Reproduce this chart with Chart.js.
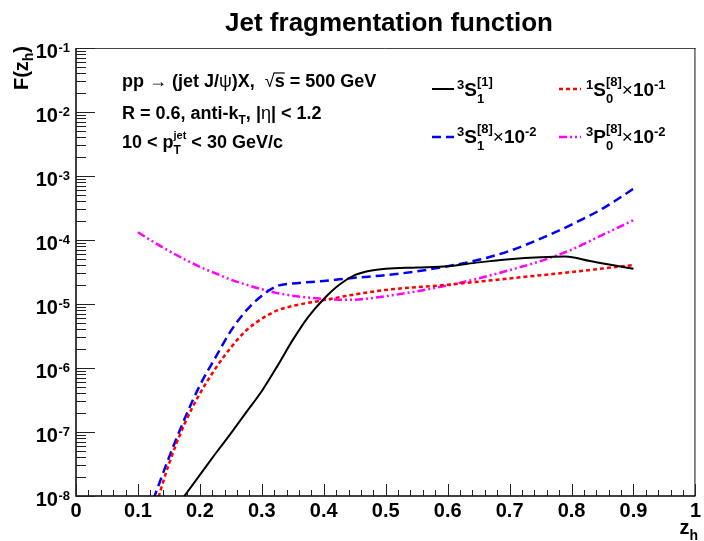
<!DOCTYPE html>
<html><head><meta charset="utf-8">
<script src="https://cdn.jsdelivr.net/npm/chart.js@4/dist/chart.umd.min.js"></script>
<style>html,body{margin:0;padding:0;background:#fff;}canvas{display:block;}</style>
</head><body>
<canvas id="c" width="704" height="541"></canvas>
<script>
// ---------- data ----------
const chartTitle = 'Jet fragmentation function';
const xTickLabels = ['0','0.1','0.2','0.3','0.4','0.5','0.6','0.7','0.8','0.9','1'];
const yTickExponents = [-8,-7,-6,-5,-4,-3,-2,-1];

// 3S1[1] (colour singlet)
const xS1 = [0.168,0.175,0.20,0.225,0.25,0.275,0.30,0.325,0.35,0.375,0.40,0.425,0.45,0.475,0.50,0.55,0.60,0.65,0.70,0.75,0.79,0.83,0.87,0.90];
const yS1 = [8.13e-9,1.0e-8,2.14e-8,4.57e-8,9.55e-8,2.04e-7,4.37e-7,1.07e-6,2.75e-6,6.31e-6,1.20e-5,2.00e-5,2.82e-5,3.31e-5,3.55e-5,3.72e-5,3.89e-5,4.47e-5,5.01e-5,5.37e-5,5.50e-5,4.68e-5,3.98e-5,3.55e-5];

// 3S1[8] x 1e-2
const xS8 = [0.125,0.15,0.175,0.20,0.225,0.25,0.275,0.30,0.325,0.35,0.40,0.45,0.50,0.55,0.60,0.65,0.70,0.75,0.80,0.85,0.90];
const yS8 = [8.91e-9,3.98e-8,1.58e-7,5.37e-7,1.45e-6,3.80e-6,7.94e-6,1.35e-5,1.91e-5,2.09e-5,2.29e-5,2.57e-5,2.82e-5,3.24e-5,3.89e-5,4.90e-5,6.76e-5,1.05e-4,1.74e-4,3.09e-4,6.31e-4];

// 1S0[8] x 1e-1
const x1S0 = [0.13,0.15,0.175,0.20,0.225,0.25,0.275,0.30,0.325,0.35,0.40,0.45,0.50,0.60,0.70,0.80,0.90];
const y1S0 = [7.59e-9,3.16e-8,1.32e-7,3.98e-7,9.77e-7,2.09e-6,3.89e-6,5.89e-6,7.94e-6,9.33e-6,1.15e-5,1.41e-5,1.66e-5,2.00e-5,2.51e-5,3.16e-5,4.07e-5];

// 3P0[8] x 1e-2
const x3P0 = [0.10,0.125,0.15,0.175,0.20,0.225,0.25,0.275,0.30,0.325,0.35,0.375,0.40,0.425,0.45,0.475,0.50,0.55,0.60,0.65,0.70,0.75,0.80,0.85,0.90];
const y3P0 = [1.32e-4,9.33e-5,6.76e-5,5.01e-5,3.80e-5,3.02e-5,2.40e-5,2.00e-5,1.70e-5,1.48e-5,1.35e-5,1.26e-5,1.20e-5,1.17e-5,1.17e-5,1.23e-5,1.32e-5,1.58e-5,1.95e-5,2.51e-5,3.39e-5,4.68e-5,7.08e-5,1.20e-4,2.04e-4];

// ---------- helpers ----------
const FF = "'Liberation Sans', Arial, Helvetica, sans-serif";
const pts = (xs, ys) => xs.map((x, i) => ({x, y: ys[i]}));

// groups: each group is a segment or array of stacked segments {t,s,dy,w,over}
function rich(ctx, x, y, groups, draw = true) {
  let cx = x;
  for (const g of groups) {
    const segs = Array.isArray(g) ? g : [g];
    let adv = 0;
    for (const sg of segs) {
      ctx.font = `${sg.w || 'bold'} ${sg.s}px ${FF}`;
      const w = ctx.measureText(sg.t).width;
      if (draw) {
        ctx.fillText(sg.t, cx, y + (sg.dy || 0));
        if (sg.over) {
          ctx.save(); ctx.lineWidth = 1.2; ctx.strokeStyle = '#000';
          ctx.beginPath(); ctx.moveTo(cx - 1, y + (sg.dy||0) - sg.s * 0.78); ctx.lineTo(cx + w, y + (sg.dy||0) - sg.s * 0.78); ctx.stroke();
          ctx.restore();
        }
      }
      adv = Math.max(adv, w);
    }
    cx += adv;
  }
  return cx - x;
}

const dashes = {
  s1: [],
  s8: [9, 5],
  s0: [4, 3],
  p0: [8, 3, 2, 3, 2, 3]
};

const decor = {
  id: 'decor',
  afterDraw(chart) {
    const ctx = chart.ctx;
    const xs = chart.scales.x, ys = chart.scales.y;
    const a = chart.chartArea;
    ctx.save();
    ctx.fillStyle = '#000';
    ctx.textAlign = 'left';
    ctx.textBaseline = 'alphabetic';

    // frame
    ctx.lineWidth = 1;
    ctx.strokeStyle = '#444';
    ctx.beginPath();
    ctx.moveTo(a.left, a.top + 0.5); ctx.lineTo(a.right, a.top + 0.5);
    ctx.stroke();
    ctx.strokeStyle = '#111';
    ctx.beginPath();
    ctx.moveTo(a.right - 0.5, a.top); ctx.lineTo(a.right - 0.5, a.bottom);
    ctx.stroke();
    ctx.strokeStyle = '#000';
    ctx.lineWidth = 1.5;
    ctx.beginPath();
    ctx.moveTo(a.left, a.top); ctx.lineTo(a.left, a.bottom); ctx.lineTo(a.right, a.bottom);
    ctx.stroke();

    // x ticks (inside)
    ctx.lineWidth = 1;
    ctx.strokeStyle = '#222';
    for (let i = 0; i <= 50; i++) {
      const px = Math.round(xs.getPixelForValue(i / 50)) + 0.5;
      const len = (i % 5 === 0) ? 12 : 6;
      ctx.beginPath(); ctx.moveTo(px, a.bottom); ctx.lineTo(px, a.bottom - len); ctx.stroke();
    }
    // y ticks (inside)
    for (const e of yTickExponents) {
      const py = Math.round(ys.getPixelForValue(Math.pow(10, e))) + 0.5;
      ctx.beginPath(); ctx.moveTo(a.left, py); ctx.lineTo(a.left + 19, py); ctx.stroke();
      if (e < -1) {
        for (let m = 2; m <= 9; m++) {
          const pm = Math.round(ys.getPixelForValue(m * Math.pow(10, e))) + 0.5;
          ctx.beginPath(); ctx.moveTo(a.left, pm); ctx.lineTo(a.left + 10, pm); ctx.stroke();
        }
      }
    }

    // y tick labels 10^e
    for (const e of yTickExponents) {
      const py = ys.getPixelForValue(Math.pow(10, e));
      ctx.font = `bold 13px ${FF}`;
      const ex = String(e);
      const we = ctx.measureText(ex).width;
      const xr = 70;
      ctx.fillText(ex, xr - we, py + 4);
      ctx.font = `bold 20px ${FF}`;
      const wt = ctx.measureText('10').width;
      ctx.fillText('10', xr - we - wt - 0.5, py + 10);
    }

    // title
    ctx.font = `bold 26px ${FF}`;
    const tw = ctx.measureText(chartTitle).width;
    ctx.fillText(chartTitle, 389 - tw / 2, 31);

    // y axis title F(z_h)
    ctx.save();
    const yTitle = [{t:'F(z', s:20}, {t:'h', s:14, dy:5}, {t:')', s:20}];
    const yw = rich(ctx, 0, 0, yTitle, false);
    ctx.translate(28, 46 + yw);
    ctx.rotate(-Math.PI / 2);
    rich(ctx, 0, 0, yTitle);
    ctx.restore();

    // x axis title z_h
    const xTitle = [{t:'z', s:20}, {t:'h', s:14, dy:6}];
    const xw = rich(ctx, 0, 0, xTitle, false);
    rich(ctx, 698 - xw, 534, xTitle);

    // annotation text
    rich(ctx, 122, 87, [
      {t:'pp ', s:18}, {t:'\u2192', s:18, w:'normal'}, {t:' (jet J/', s:18}, {t:'\u03C8', s:18, w:'normal'},
      {t:')X,  ', s:18}, {t:'\u221A', s:18, w:'normal'}, {t:'s', s:18, over:true}, {t:' = 500 GeV', s:18}
    ]);
    rich(ctx, 122, 119, [
      {t:'R = 0.6, anti-k', s:18}, {t:'T', s:12, dy:5}, {t:', |', s:18}, {t:'\u03B7', s:18, w:'normal'}, {t:'| < 1.2', s:18}
    ]);
    rich(ctx, 122, 148, [
      {t:'10 < p', s:18}, [{t:'jet', s:11, dy:-9}, {t:'T', s:12, dy:6}], {t:' < 30 GeV/c', s:18}
    ]);

    // legend
    const legend = [
      {c:'#000', d:dashes.s1, lw:2, x:432, y:89, tx:457, ty:96,
       g:[{t:'3', s:13, dy:-7}, {t:'S', s:19}, [{t:'[1]', s:13, dy:-10}, {t:'1', s:13, dy:7}]]},
      {c:'#ff0000', d:dashes.s0, lw:2.5, x:559, y:89, tx:586, ty:96,
       g:[{t:'1', s:13, dy:-7}, {t:'S', s:19}, [{t:'[8]', s:13, dy:-10}, {t:'0', s:13, dy:7}], {t:'\u00D7', s:19, w:'normal'}, {t:'10', s:19}, {t:'-1', s:13, dy:-7}]},
      {c:'#0000ff', d:dashes.s8, lw:2.5, x:432, y:137, tx:457, ty:143,
       g:[{t:'3', s:13, dy:-7}, {t:'S', s:19}, [{t:'[8]', s:13, dy:-10}, {t:'1', s:13, dy:7}], {t:'\u00D7', s:19, w:'normal'}, {t:'10', s:19}, {t:'-2', s:13, dy:-7}]},
      {c:'#ff00ff', d:dashes.p0, lw:2.5, x:559, y:137, tx:586, ty:143,
       g:[{t:'3', s:13, dy:-7}, {t:'P', s:19}, [{t:'[8]', s:13, dy:-10}, {t:'0', s:13, dy:7}], {t:'\u00D7', s:19, w:'normal'}, {t:'10', s:19}, {t:'-2', s:13, dy:-7}]}
    ];
    for (const L of legend) {
      ctx.save();
      ctx.strokeStyle = L.c; ctx.lineWidth = L.lw; ctx.setLineDash(L.d);
      ctx.beginPath(); ctx.moveTo(L.x, L.y); ctx.lineTo(L.x + 22, L.y); ctx.stroke();
      ctx.restore();
      rich(ctx, L.tx, L.ty, L.g);
    }
    ctx.restore();
  }
};

const mk = (label, xs, ys, color, dash, lw) => ({
  label, data: pts(xs, ys), borderColor: color, backgroundColor: color,
  borderDash: dash, borderWidth: lw, pointRadius: 0, fill: false,
  cubicInterpolationMode: 'monotone'
});

new Chart(document.getElementById('c'), {
  type: 'line',
  data: {
    datasets: [
      mk('3S1[1]', xS1, yS1, '#000000', dashes.s1, 2),
      mk('1S0[8]x10^-1', x1S0, y1S0, '#ff0000', dashes.s0, 2.5),
      mk('3S1[8]x10^-2', xS8, yS8, '#0000ff', dashes.s8, 2.5),
      mk('3P0[8]x10^-2', x3P0, y3P0, '#ff00ff', dashes.p0, 2.5)
    ]
  },
  options: {
    responsive: false,
    animation: false,
    devicePixelRatio: 1,
    layout: { padding: { top: 48, right: 5.5, left: 0, bottom: 0 } },
    plugins: { legend: { display: false }, title: { display: false }, tooltip: { enabled: false } },
    scales: {
      x: {
        type: 'linear', min: 0, max: 1,
        grid: { display: false, drawTicks: false },
        border: { display: false },
        ticks: {
          stepSize: 0.1, autoSkip: false, maxRotation: 0, padding: 3,
          color: '#000', font: { family: FF, size: 20, weight: 'bold' },
          callback: (v, i) => xTickLabels[i]
        },
        afterFit: s => { s.height = 45; }
      },
      y: {
        type: 'logarithmic', min: 1e-8, max: 1e-1,
        grid: { display: false, drawTicks: false },
        border: { display: false },
        ticks: { display: false },
        afterFit: s => { s.width = 76; }
      }
    }
  },
  plugins: [decor]
});
</script>
</body></html>
